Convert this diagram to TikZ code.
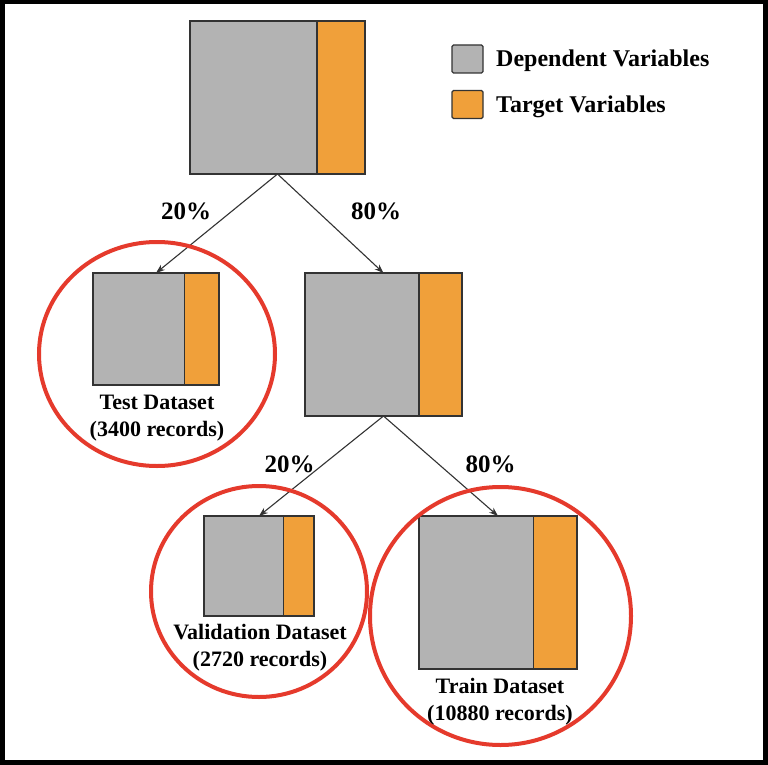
\documentclass[tikz,border=0pt]{standalone}
\usepackage{fontspec}
\setmainfont{Liberation Serif}
\usetikzlibrary{calc,arrows.meta,shapes.geometric}
\definecolor{depgray}{HTML}{B3B3B3}
\definecolor{tgtorange}{HTML}{F0A03A}
\definecolor{edge}{HTML}{333333}
\definecolor{ringred}{HTML}{E53A2C}
\tikzset{
  databox/.style={draw=edge, line width=1.4pt, fill=depgray, rectangle, inner sep=0pt, outer sep=0pt, anchor=north west,
    path picture={
      \fill[tgtorange] ($(path picture bounding box.north east)!0.275!(path picture bounding box.north west)$) rectangle (path picture bounding box.south east);
      \draw[edge, line width=1.4pt] ($(path picture bounding box.north east)!0.275!(path picture bounding box.north west)$) -- ($(path picture bounding box.south east)!0.275!(path picture bounding box.south west)$);
    }},
  ring/.style={draw=ringred, line width=4pt, ellipse, inner sep=0pt, outer sep=0pt},
  splitarrow/.style={draw=edge, line width=1.1pt, -{Stealth[length=9pt,width=6.5pt]}},
  pct/.style={font=\bfseries\fontsize{25}{28}\selectfont, anchor=base, inner sep=0pt},
  dslabel/.style={font=\bfseries\fontsize{22}{27}\selectfont, align=center, inner sep=0pt},
  legbox/.style={draw=edge, line width=1.4pt, rounded corners=1.5pt, minimum width=31pt, minimum height=28pt, inner sep=0pt},
  legtext/.style={font=\bfseries\fontsize{24}{28}\selectfont, anchor=base west, inner sep=0pt}
}
\begin{document}
\begin{tikzpicture}[x=1pt,y=-1pt]
\useasboundingbox (0,0) rectangle (768,765);
\fill[white] (0,0) rectangle (768,765);
\draw[line width=5pt] (2,2) rectangle (765.5,762.5);

% boxes
\node[databox, minimum width=175pt, minimum height=153pt] (top) at (190,21) {};
\node[databox, minimum width=126pt, minimum height=112pt] (test) at (93,273) {};
\node[databox, minimum width=157pt, minimum height=143pt] (mid) at (305,273) {};
\node[databox, minimum width=110pt, minimum height=100pt] (val) at (204,516) {};
\node[databox, minimum width=158pt, minimum height=153pt] (train) at (419,516) {};

% arrows
\draw[splitarrow] (top.south) -- (test.north);
\draw[splitarrow] (top.south) -- (mid.north);
\draw[splitarrow] (mid.south) -- (val.north);
\draw[splitarrow] (mid.south) -- (train.north);

% rings
\node[ring, minimum width=236pt, minimum height=224pt] (testring) at (157,354) {};
\node[ring, minimum width=216pt, minimum height=211pt] (valring) at (259,591.5) {};
\node[ring, minimum width=261pt, minimum height=258pt] (trainring) at (500.5,616) {};

% percentages
\node[pct] (p1) at (186,219) {20\%};
\node[pct] (p2) at (376,219) {80\%};
\node[pct] (p3) at (289.5,472) {20\%};
\node[pct] (p4) at (490.5,472) {80\%};

% dataset labels
\node[dslabel] (testlbl) at (157,418) {Test Dataset\\(3400 records)};
\node[dslabel] (vallbl) at (260,648) {Validation Dataset\\(2720 records)};
\node[dslabel] (trainlbl) at (500,702) {Train Dataset\\(10880 records)};

% legend
\node[legbox, fill=depgray] (legdep) at (467.5,59) {};
\node[legbox, fill=tgtorange] (legtgt) at (467.5,104.5) {};
\node[legtext] (legdeptxt) at (496,67) {Dependent Variables};
\node[legtext] (legtgttxt) at (496,113) {Target Variables};
\end{tikzpicture}
\end{document}
